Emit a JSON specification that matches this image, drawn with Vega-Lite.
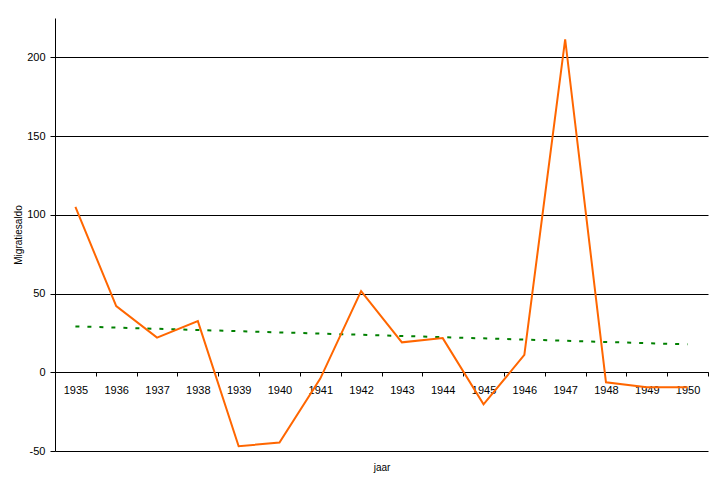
{
  "$schema": "https://vega.github.io/schema/vega-lite/v6.json",
  "width": 653,
  "height": 433,
  "autosize": {"type": "none"},
  "padding": {"left": 55, "top": 18, "right": 7, "bottom": 34},
  "background": "white",
  "config": {
    "view": {"stroke": null},
    "font": "Liberation Sans"
  },
  "data": {
    "values": [
      {"year": 1935, "value": 105},
      {"year": 1936, "value": 42},
      {"year": 1937, "value": 22},
      {"year": 1938, "value": 32.5},
      {"year": 1939, "value": -47},
      {"year": 1940, "value": -44.6},
      {"year": 1941, "value": -4},
      {"year": 1942, "value": 51.6},
      {"year": 1943, "value": 19},
      {"year": 1944, "value": 21.7},
      {"year": 1945, "value": -20.4},
      {"year": 1946, "value": 11},
      {"year": 1947, "value": 211.5},
      {"year": 1948, "value": -6.4},
      {"year": 1949, "value": -9.5},
      {"year": 1950, "value": -9.5}
    ]
  },
  "encoding": {
    "x": {
      "field": "year",
      "type": "ordinal",
      "scale": {"type": "band", "paddingInner": 0, "paddingOuter": 0},
      "axis": {
        "title": "jaar",
        "titleFontSize": 10,
        "titleFontWeight": "normal",
        "titleColor": "black",
        "titlePadding": 67,
        "labelAngle": 0,
        "labelFontSize": 11,
        "labelColor": "black",
        "labelPadding": 8,
        "tickBand": "extent",
        "tickSize": 4,
        "tickColor": "black",
        "domainColor": "black",
        "offset": -79,
        "grid": false
      }
    },
    "y": {
      "field": "value",
      "type": "quantitative",
      "scale": {"domain": [-50, 225], "nice": false, "zero": false},
      "axis": {
        "title": "Migratiesaldo",
        "titleFontSize": 10,
        "titleFontWeight": "normal",
        "titleColor": "black",
        "titlePadding": 3,
        "values": [-50, 0, 50, 100, 150, 200],
        "labelExpr": "replace(datum.label, '−', '-')",
        "labelFontSize": 11,
        "labelColor": "black",
        "labelPadding": 5,
        "tickSize": 5,
        "tickColor": "black",
        "domainColor": "black",
        "grid": true,
        "gridColor": "black",
        "gridOpacity": 1,
        "gridWidth": 1
      }
    }
  },
  "layer": [
    {
      "transform": [{"regression": "value", "on": "year"}],
      "mark": {"type": "line", "color": "#008000", "strokeWidth": 2, "strokeDash": [4, 8]}
    },
    {
      "mark": {"type": "line", "color": "#FF6600", "strokeWidth": 2}
    }
  ]
}
